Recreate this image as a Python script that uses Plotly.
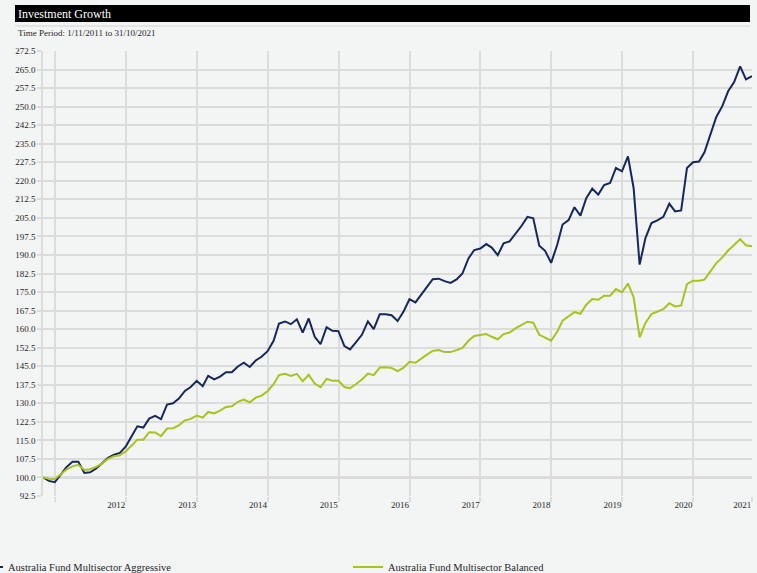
import pandas as pd
import plotly.graph_objects as go

# ---------------- data ----------------
aggressive = [
    100.0, 98.6, 98.1, 101.2, 104.2, 106.4, 106.4, 101.8, 102.1, 103.6,
    105.9, 107.9, 109.2, 109.9, 112.6, 116.7, 120.7, 120.2, 123.8, 124.9,
    123.6, 129.5, 130.0, 131.9, 135.0, 136.6, 139.1, 136.9, 141.1, 139.7,
    140.8, 142.6, 142.6, 144.9, 146.4, 144.7, 147.3, 148.8, 151.1, 155.3,
    162.3, 163.1, 162.0, 164.0, 158.6, 164.3, 156.9, 153.9, 160.8, 159.3,
    159.2, 153.1, 151.8, 154.7, 157.7, 163.1, 160.0, 166.0, 166.0, 165.6,
    163.3, 167.0, 172.1, 170.8, 173.7, 177.1, 180.2, 180.4, 179.4, 178.7,
    180.1, 182.5, 188.6, 192.0, 192.6, 194.4, 193.0, 189.9, 194.7, 195.5,
    198.4, 201.7, 205.4, 204.8, 193.7, 191.7, 186.8, 194.0, 202.3, 204.1,
    209.3, 205.9, 213.0, 216.8, 214.4, 218.3, 219.1, 225.2, 223.8, 229.9,
    217.1, 186.1, 196.8, 202.9, 204.0, 205.4, 210.7, 207.6, 208.0, 225.2,
    227.5, 227.8, 231.5, 238.7, 245.8, 250.2, 256.2, 259.9, 266.3, 261.0,
    262.3,
]
balanced = [
    100.0, 99.5, 99.4, 101.3, 103.2, 104.5, 105.1, 103.0, 103.3, 104.3,
    105.7, 107.5, 108.6, 109.0, 110.6, 113.0, 115.3, 115.3, 118.3, 118.2,
    116.7, 119.8, 119.9, 121.1, 123.1, 123.7, 125.0, 124.2, 126.5, 125.9,
    127.0, 128.5, 128.8, 130.6, 131.5, 130.4, 132.3, 133.1, 134.9, 137.7,
    141.4, 141.9, 141.1, 141.9, 138.9, 141.5, 138.0, 136.5, 139.9, 139.1,
    139.1, 136.6, 136.1, 137.8, 139.6, 142.0, 141.4, 144.5, 144.6, 144.3,
    143.0, 144.3, 146.8, 146.4, 148.1, 149.7, 151.2, 151.5, 150.7, 150.7,
    151.5, 152.4, 155.3, 157.2, 157.6, 158.0, 156.9, 155.9, 158.0, 158.6,
    160.3, 161.7, 163.0, 162.6, 157.7, 156.6, 155.3, 158.9, 163.4, 165.2,
    166.9, 166.2, 169.9, 172.2, 171.9, 173.5, 173.5, 176.2, 174.9, 178.4,
    173.0, 156.7, 162.5, 166.1, 167.0, 168.1, 170.5, 169.2, 169.6, 178.2,
    179.6, 179.6, 180.0, 183.4, 186.7, 189.0, 191.8, 194.0, 196.4, 193.9,
    193.5,
]
series_names = ["Australia Fund Multisector Aggressive", "Australia Fund Multisector Balanced"]
series_colors = ["#16275c", "#a8c21e"]

# month-end dates 31/10/2011 .. 31/10/2021
dates = pd.date_range(start="2011-11-01", periods=len(aggressive), freq="MS") - pd.Timedelta(days=1)

year_tick_dates = ["2012-01-01", "2013-01-01", "2014-01-01", "2015-01-01", "2016-01-01",
                   "2017-01-01", "2018-01-01", "2019-01-01", "2020-01-01", "2021-01-01",
                   "2021-10-31"]
year_tick_labels = ["", "2012", "2013", "2014", "2015", "2016", "2017", "2018", "2019", "2020", "2021"]

y_min, y_max, y_step = 92.5, 272.5, 7.5
baseline = 100.0

title_text = "Investment Growth"
subtitle_text = "Time Period: 1/11/2011 to 31/10/2021"

# ---------------- figure ----------------
FONT = "Liberation Serif"
BG = "#f3f4f4"
GRID = "#dcdcdc"
TXT = "#262626"

W, H = 757, 573
ml, mr, mt, mb = 43, 5, 51, 77
pw, ph = W - ml - mr, H - mt - mb


def px_x(p):
    return (p - ml) / pw


def px_y(p):
    return (H - mb - p) / ph


fig = go.Figure()
legend_ids = ["legend", "legend2"]
for vals, name, col, lg in zip([aggressive, balanced], series_names, series_colors, legend_ids):
    fig.add_trace(go.Scatter(x=dates, y=vals, name=name, mode="lines", legend=lg,
                             line=dict(color=col, width=2)))

legend_common = dict(orientation="h", xanchor="left", yanchor="middle", y=px_y(567),
                     font=dict(family=FONT, size=10.5, color=TXT),
                     bgcolor="rgba(0,0,0,0)", itemclick=False, itemdoubleclick=False)

fig.update_layout(
    width=W, height=H,
    margin=dict(l=ml, r=mr, t=mt, b=mb, pad=0, autoexpand=False),
    paper_bgcolor=BG, plot_bgcolor=BG,
    font=dict(family=FONT, size=9, color=TXT),
    showlegend=True,
    legend=dict(x=px_x(-32), **legend_common),
    legend2=dict(x=px_x(348), **legend_common),
    xaxis=dict(
        type="date",
        range=[dates[0], dates[-1]],
        tickmode="array", tickvals=year_tick_dates, ticktext=year_tick_labels,
        ticklabelposition="outside left",
        ticks="outside", ticklen=5, tickcolor=GRID, tickwidth=1.5,
        showgrid=True, gridcolor=GRID, gridwidth=1.5,
        showline=False, zeroline=False,
        tickfont=dict(family=FONT, size=9, color=TXT),
    ),
    yaxis=dict(
        range=[y_min, y_max], tick0=y_min, dtick=y_step, tickformat=".1f",
        ticks="outside", ticklen=4, tickcolor=GRID, tickwidth=1.5,
        showgrid=True, gridcolor=GRID, gridwidth=1.5,
        showline=True, linecolor=GRID, linewidth=1.5,
        zeroline=False,
        tickfont=dict(family=FONT, size=9, color=TXT),
    ),
    shapes=[
        dict(type="rect", xref="paper", yref="paper", x0=px_x(15), x1=px_x(750),
             y0=px_y(22), y1=px_y(5), fillcolor="#000000", line=dict(width=0), layer="above"),
        dict(type="line", xref="paper", yref="paper", x0=px_x(15), x1=px_x(750),
             y0=px_y(26), y1=px_y(26), line=dict(color="#d4d4d4", width=1)),
        dict(type="line", xref="paper", yref="y", x0=0, x1=1, y0=baseline, y1=baseline,
             line=dict(color="#d2d2d2", width=2.5), layer="below"),
    ],
    annotations=[
        dict(text=title_text, xref="paper", yref="paper", x=px_x(16), y=px_y(14),
             xanchor="left", yanchor="middle", showarrow=False,
             font=dict(family=FONT, size=12, color="#ffffff")),
        dict(text=subtitle_text, xref="paper", yref="paper", x=px_x(16), y=px_y(33),
             xanchor="left", yanchor="middle", showarrow=False,
             font=dict(family=FONT, size=9, color=TXT)),
    ],
)

fig.write_html(
    "out.html",
    config={"displayModeBar": False},
    post_script="document.body.style.margin='0';document.body.style.overflow='hidden';",
)
